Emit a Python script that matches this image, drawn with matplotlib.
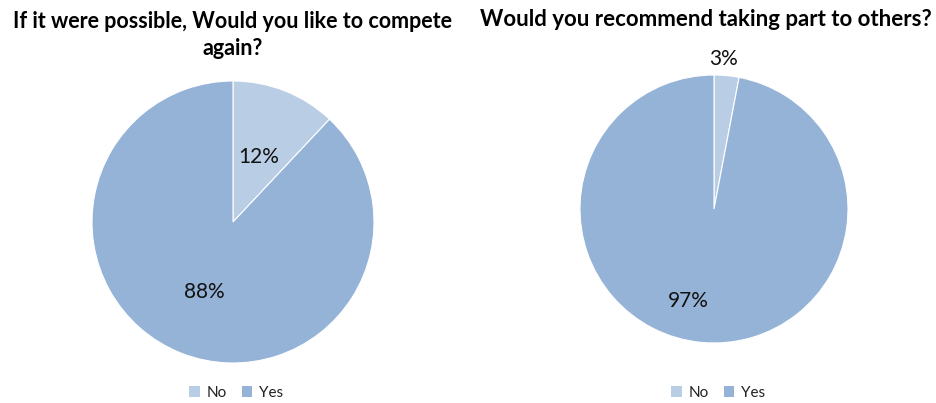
import matplotlib.pyplot as plt
from matplotlib.patches import Patch

plt.rcParams['font.family'] = ['Lato', 'DejaVu Sans']

categories = ['No', 'Yes']
compete_again = [12, 88]
recommend = [3, 97]
colors = ['#B9CDE5', '#95B3D7']

W, H = 937, 403
fig = plt.figure(figsize=(W / 100, H / 100), dpi=100)


def pie_axes(cx, cy, r):
    # place a pie of radius r (pixels) centred at (cx, cy) from top-left
    return fig.add_axes([(cx - r) / W, (H - cy - r) / H, 2 * r / W, 2 * r / H])


def draw_pie(ax, values, label_pos):
    ax.pie(values, colors=colors, startangle=90, counterclock=False,
           wedgeprops=dict(edgecolor='white', linewidth=0.8))
    for v, (x, y) in zip(values, label_pos):
        ax.text(x, y, f'{v}%', ha='center', va='center', fontsize=15, color='#111111')
    ax.set_xlim(-1, 1)
    ax.set_ylim(-1, 1)
    ax.set_aspect('equal')
    ax.axis('off')


ax1 = pie_axes(233, 222, 141)
draw_pie(ax1, compete_again, [(0.18, 0.46), (-0.2, -0.5)])

ax2 = pie_axes(714, 209, 134)
draw_pie(ax2, recommend, [(0.07, 1.12), (-0.19, -0.69)])

fig.text(233 / W, 1 - 35 / H, 'If it were possible, Would you like to compete\nagain?',
         ha='center', va='center', fontsize=15.5, fontweight='bold', linespacing=1.3)
fig.text(706 / W, 1 - 20 / H, 'Would you recommend taking part to others?',
         ha='center', va='center', fontsize=16, fontweight='bold')

handles = [Patch(facecolor=c, edgecolor='none') for c in colors]
for cx in (236, 718):
    fig.legend(handles, categories, loc='center', bbox_to_anchor=(cx / W, 1 - 393 / H),
               ncol=2, frameon=False, fontsize=11, handlelength=0.7, handleheight=0.7,
               handletextpad=0.4, columnspacing=1.0, labelcolor='#222222')

fig.savefig('out.png', dpi=100)
